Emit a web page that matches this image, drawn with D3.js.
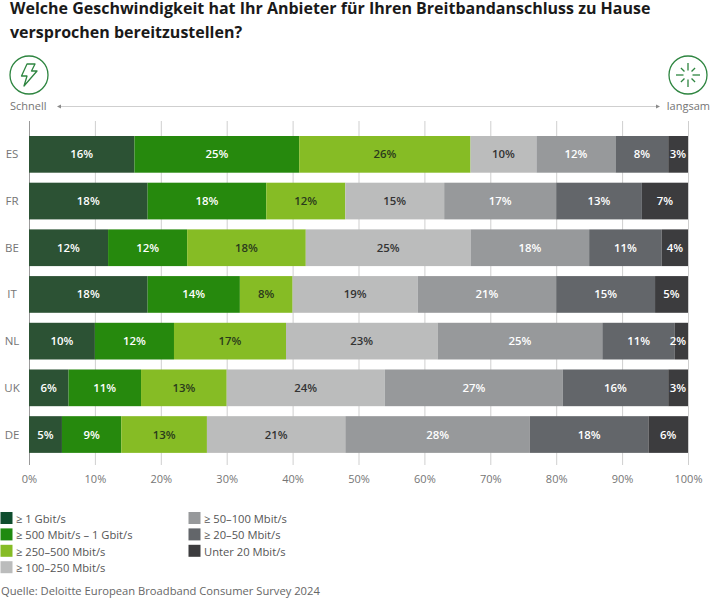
<!DOCTYPE html>
<html><head><meta charset="utf-8">
<script src="https://cdnjs.cloudflare.com/ajax/libs/d3/7.8.5/d3.min.js"></script>
<style>html,body{margin:0;padding:0;background:#fff}svg{display:block}text{font-family:"Open Sans",sans-serif}</style>
</head><body><svg id="c" width="710" height="598"></svg>
<script>
const countries = ["ES","FR","BE","IT","NL","UK","DE"];
const seriesNames = ["≥ 1 Gbit/s","≥ 500 Mbit/s – 1 Gbit/s","≥ 250–500 Mbit/s","≥ 100–250 Mbit/s","≥ 50–100 Mbit/s","≥ 20–50 Mbit/s","Unter 20 Mbit/s"];
const s1 = [16,18,12,18,10,6,5];
const s2 = [25,18,12,14,12,11,9];
const s3 = [26,12,18,8,17,13,13];
const s4 = [10,15,25,19,23,24,21];
const s5 = [12,17,18,21,25,27,28];
const s6 = [8,13,11,15,11,16,18];
const s7 = [3,7,4,5,2,3,6];
const allSeries = [s1,s2,s3,s4,s5,s6,s7];
const barColors = ["#2c5234","#26890d","#86bc25","#bbbcbc","#97999b","#63666a","#3c3c3e"];
const legendColors = ["#0f4d2e","#1f8a10","#86bc25","#bbbcbc","#97999b","#63666a","#3c3c3e"];
const labelColors = ["#fff","#fff","#2a3a1c","#333","#fff","#fff","#fff"];
const ticks = [0,10,20,30,40,50,60,70,80,90,100];
const title = ["Welche Geschwindigkeit hat Ihr Anbieter für Ihren Breitbandanschluss zu Hause","versprochen bereitzustellen?"];

const svg = d3.select("#c");
const x = d3.scaleLinear().domain([0,100]).range([29,688]);
const y = d3.scaleBand().domain(countries).range([131.33,457.55]).paddingInner(0.214).paddingOuter(0.1);

svg.selectAll("text.title").data(title).join("text").attr("class","title")
  .attr("x",10).attr("y",(d,i)=>13.5+i*24.5).attr("font-size",16).attr("font-weight",700).attr("fill","#1a1a1a").text(d=>d);

// axis
const axis = svg.append("g").attr("transform","translate(0,465)")
  .call(d3.axisBottom(x).tickValues(ticks).tickFormat(d=>d+"%").tickSize(344).tickSizeOuter(0).tickPadding(7));
axis.select(".domain").remove();
axis.selectAll(".tick line").attr("y1",0).attr("y2",-344).attr("stroke","#cfcfcf").attr("stroke-width",1);
axis.selectAll(".tick text").attr("y",14).attr("dy","0.32em").attr("font-size",11).attr("fill","#757575");
axis.selectAll(".tick").filter(d=>d===0).select("line").attr("stroke","#9a9a9a");

// bars
const stackData = countries.map((c,i)=>{const o={c};allSeries.forEach((s,j)=>o[j]=s[i]);return o;});
const stacked = d3.stack().keys(d3.range(7))(stackData);
const groups = svg.selectAll("g.s").data(stacked).join("g").attr("class","s");
groups.selectAll("rect").data((d,i)=>d.map(v=>({v,i}))).join("rect")
  .attr("x",d=>x(d.v[0])).attr("width",d=>x(d.v[1])-x(d.v[0]))
  .attr("y",d=>y(d.v.data.c)).attr("height",y.bandwidth())
  .attr("fill",d=>barColors[d.i]);
groups.selectAll("text").data((d,i)=>d.map(v=>({v,i}))).join("text")
  .attr("x",d=>Math.min((x(d.v[0])+x(d.v[1]))/2, x(100)-10))
  .attr("y",d=>y(d.v.data.c)+y.bandwidth()/2).attr("dy","0.35em")
  .attr("text-anchor","middle").attr("font-size",11.4).attr("font-weight",600)
  .attr("fill",d=>labelColors[d.i]).text(d=>(d.v[1]-d.v[0])+"%");

// category labels
svg.selectAll("text.cat").data(countries).join("text").attr("class","cat")
  .attr("x",12).attr("y",d=>y(d)+y.bandwidth()/2).attr("dy","0.35em").attr("text-anchor","middle")
  .attr("font-size",11.5).attr("fill","#757575").text(d=>d);

// direction arrow
svg.append("line").attr("x1",59).attr("x2",657).attr("y1",106.5).attr("y2",106.5).attr("stroke","#cfcfcf");
svg.append("path").attr("d","M57,106.5l4,-2v4z").attr("fill","#8a8a8a");
svg.append("path").attr("d","M660,106.5l-4,-2v4z").attr("fill","#8a8a8a");
svg.append("text").attr("x",10).attr("y",110).attr("font-size",11).attr("fill","#757575").text("Schnell");
svg.append("text").attr("x",710).attr("y",110).attr("text-anchor","end").attr("font-size",11).attr("fill","#757575").text("langsam");

// icons
const green="#2e8540";
svg.append("circle").attr("cx",29).attr("cy",75).attr("r",19).attr("fill","none").attr("stroke",green).attr("stroke-width",1.3);
svg.append("path").attr("d","M27,64L35,64L31.5,71L37,71L24,86L27,76L21.5,76Z").attr("fill","none").attr("stroke",green).attr("stroke-width",1.3).attr("stroke-linejoin","round");
svg.append("circle").attr("cx",688).attr("cy",75).attr("r",19).attr("fill","none").attr("stroke",green).attr("stroke-width",1.3);
const spin = svg.append("g").attr("transform","translate(688,75)");
spin.selectAll("line").data(d3.range(8)).join("line")
  .attr("x1",d=>Math.cos(d*Math.PI/4)*(d%2?5:4.5)).attr("y1",d=>Math.sin(d*Math.PI/4)*(d%2?5:4.5))
  .attr("x2",d=>Math.cos(d*Math.PI/4)*(d%2?10:12)).attr("y2",d=>Math.sin(d*Math.PI/4)*(d%2?10:12))
  .attr("stroke",green).attr("stroke-width",1.3);

// legend
const legendPos = seriesNames.map((n,i)=>i<4?{col:0,row:i}:{col:1,row:i-4});
const lg = svg.selectAll("g.lg").data(seriesNames).join("g").attr("class","lg")
  .attr("transform",(d,i)=>`translate(${legendPos[i].col?188.5:0.5},${512+legendPos[i].row*16.4})`);
lg.append("rect").attr("width",12).attr("height",12).attr("fill",(d,i)=>legendColors[i]);
lg.append("text").attr("x",15.5).attr("y",7).attr("dy","0.35em").attr("font-size",11.2).attr("fill","#555").text(d=>d);

svg.append("text").attr("x",1).attr("y",595).attr("font-size",11.2).attr("fill","#666").text("Quelle: Deloitte European Broadband Consumer Survey 2024");
</script></body></html>
